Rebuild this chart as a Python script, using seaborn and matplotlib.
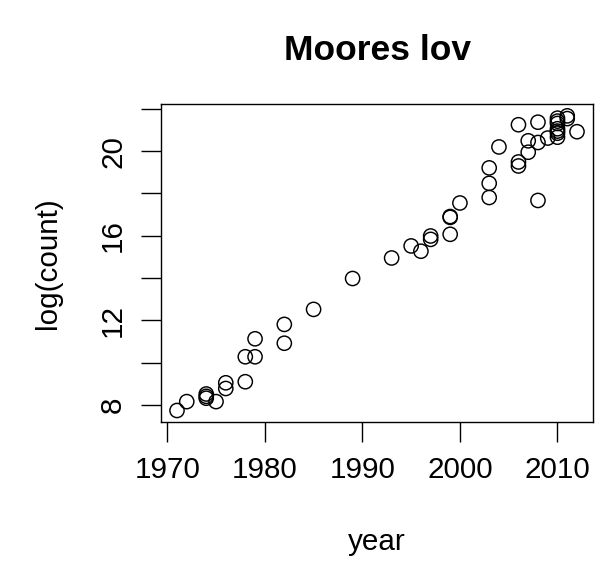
import matplotlib
matplotlib.use("Agg")
import matplotlib.pyplot as plt
import seaborn as sns
import pandas as pd

# values (natural log of transistor count)
year = [1971, 1972, 1974, 1974, 1974, 1975, 1976, 1976, 1978, 1978,
        1979, 1979, 1982, 1982, 1985, 1989, 1993, 1995, 1996, 1997,
        1997, 1999, 1999, 1999, 2000, 2003, 2003, 2003, 2004, 2006,
        2006, 2006, 2007, 2007, 2008, 2008, 2008, 2009, 2010, 2010,
        2010, 2010, 2010, 2010, 2010, 2011, 2011, 2012]
log_count = [7.74, 8.16, 8.32, 8.41, 8.52, 8.16, 8.78, 9.05, 9.10, 10.28,
             10.28, 11.13, 10.92, 11.81, 12.52, 13.98, 14.95, 15.52, 15.27, 15.83,
             15.99, 16.07, 16.87, 16.91, 17.55, 17.81, 18.48, 19.21, 20.20, 19.30,
             19.49, 21.25, 19.95, 20.49, 17.67, 20.41, 21.37, 20.62, 20.66, 20.85,
             20.95, 21.06, 21.31, 21.42, 21.56, 21.54, 21.67, 20.92]

df = pd.DataFrame({"year": year, "log_count": log_count})

sns.set_theme(style="ticks")
plt.rcParams["font.family"] = ["Liberation Sans", "DejaVu Sans"]
plt.rcParams["text.color"] = "black"
plt.rcParams["axes.labelcolor"] = "black"

fig = plt.figure(figsize=(5.97, 5.75), dpi=100)
ax = fig.add_axes([161 / 597, 1 - 422 / 575, 432 / 597, 318 / 575])

sns.scatterplot(data=df, x="year", y="log_count", ax=ax, marker="o",
                s=105, facecolors="none", edgecolor="black", linewidth=1.05)

# R pads the data range by 4% on each side
ax.set_xlim(1969.36, 2013.64)
ax.set_ylim(7.196, 22.23)

ax.set_xticks([1970, 1980, 1990, 2000, 2010])
ax.set_yticks([8, 10, 12, 14, 16, 18, 20, 22])
ax.set_yticklabels(["8", "", "12", "", "16", "", "20", ""], rotation=90, va="center")

for side in ["top", "right", "bottom", "left"]:
    ax.spines[side].set_visible(True)
    ax.spines[side].set_color("black")
    ax.spines[side].set_linewidth(1.0)

ax.tick_params(axis="both", direction="out", length=14.4, width=1.0,
               color="black", labelsize=21.3, labelcolor="black")
ax.tick_params(axis="x", pad=10)
ax.tick_params(axis="y", pad=10)

ax.set_xlabel("year", fontsize=21.3, labelpad=32)
ax.set_ylabel("log(count)", fontsize=21.3, labelpad=27)
ax.set_title("Moores lov", fontsize=25.5, fontweight="bold", pad=32, color="black")

fig.savefig("out.png", dpi=100)
